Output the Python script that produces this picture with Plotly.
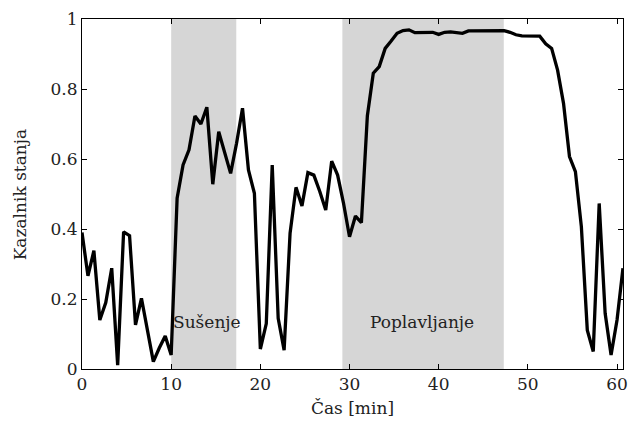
import plotly.graph_objects as go

# sampling every 40 s -> time in minutes
time_min = [round(i * 40 / 60, 4) for i in range(92)]

state_indicator = [
    0.39, 0.266, 0.338, 0.14, 0.19, 0.288, 0.011, 0.392, 0.381, 0.126,
    0.202, 0.115, 0.021, 0.06, 0.094, 0.04, 0.488, 0.583, 0.626, 0.723,
    0.70, 0.748, 0.528, 0.678, 0.62, 0.559, 0.645, 0.745, 0.569, 0.502,
    0.057, 0.13, 0.583, 0.145, 0.054, 0.388, 0.519, 0.466, 0.561, 0.554,
    0.507, 0.454, 0.594, 0.554, 0.473, 0.378, 0.437, 0.418, 0.723, 0.845,
    0.864, 0.916, 0.937, 0.959, 0.967, 0.969, 0.961, 0.962, 0.961, 0.962,
    0.956, 0.962, 0.963, 0.962, 0.959, 0.966, 0.966, 0.967, 0.968, 0.968,
    0.968, 0.967, 0.962, 0.955, 0.952, 0.952, 0.952, 0.951, 0.929, 0.916,
    0.854, 0.759, 0.607, 0.564, 0.407, 0.111, 0.05, 0.473, 0.159, 0.04,
    0.14, 0.288,
]

phase_labels = ["Sušenje", "Poplavljanje"]
phase_start = [10.0, 29.2]
phase_end = [17.3, 47.3]
label_x = [14.05, 38.1]
label_y = [0.135, 0.135]

y_ticks = [0, 0.2, 0.4, 0.6, 0.8, 1]
y_ticktext = ["0", "0.2", "0.4", "0.6", "0.8", "1"]
x_ticks = [0, 10, 20, 30, 40, 50, 60]

FONT = "DejaVu Serif"
FS = 17

fig = go.Figure()
fig.add_trace(go.Scatter(
    x=time_min, y=state_indicator, mode="lines",
    line=dict(color="black", width=3.3), showlegend=False,
))

for s, e in zip(phase_start, phase_end):
    fig.add_shape(type="rect", xref="x", yref="y", x0=s, x1=e, y0=0, y1=1,
                  fillcolor="#d6d6d6", line=dict(width=0), layer="below")

for lab, lx, ly in zip(phase_labels, label_x, label_y):
    fig.add_annotation(x=lx, y=ly, text=lab, showarrow=False,
                       font=dict(family=FONT, size=FS, color="#222"))

# y-axis title
fig.add_annotation(x=-0.114, y=0.5, xref="paper", yref="paper",
                   text="Kazalnik stanja", textangle=-90, showarrow=False,
                   xanchor="center", yanchor="middle",
                   font=dict(family=FONT, size=FS, color="#222"))

axis_common = dict(
    showline=True, linecolor="black", linewidth=1, mirror="ticks",
    ticks="inside", ticklen=5, tickcolor="black", showgrid=False,
    zeroline=False, tickfont=dict(family=FONT, size=FS, color="#222"),
)

fig.update_xaxes(range=[0, 60.67], tickvals=x_ticks,
                 title=dict(text="Čas [min]", font=dict(family=FONT, size=FS, color="#222"), standoff=8),
                 **axis_common)
fig.update_yaxes(range=[0, 1], tickvals=y_ticks, ticktext=y_ticktext,
                 **axis_common)

fig.update_layout(
    width=633, height=424,
    margin=dict(l=82, r=5, t=19, b=55),
    plot_bgcolor="white", paper_bgcolor="white",
    font=dict(family=FONT),
)

fig.write_html("out.html")
